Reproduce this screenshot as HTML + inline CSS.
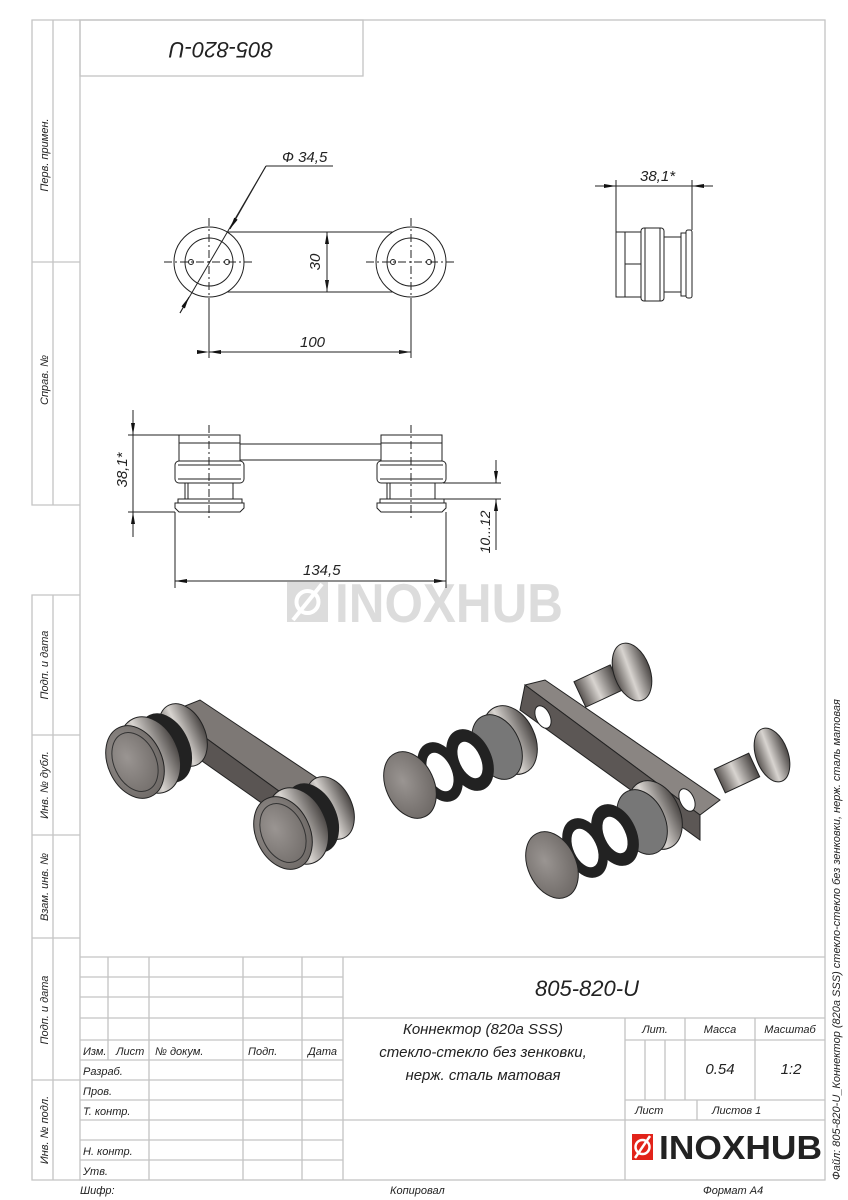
<!DOCTYPE html>
<html><head><meta charset="utf-8"><style>
html,body{margin:0;padding:0;background:#fff}
svg{display:block}
text{font-family:"Liberation Sans","DejaVu Sans",sans-serif;font-style:italic;fill:#222}
</style></head><body>
<svg width="848" height="1200" viewBox="0 0 848 1200" xmlns="http://www.w3.org/2000/svg">
<defs>
<linearGradient id="m" x1="0" y1="0" x2="1" y2="1"><stop offset="0" stop-color="#c9c5c2"/><stop offset="0.5" stop-color="#6e6966"/><stop offset="1" stop-color="#3e3a38"/></linearGradient>
<linearGradient id="m2" x1="0" y1="0" x2="1" y2="0"><stop offset="0" stop-color="#5a5552"/><stop offset="0.45" stop-color="#d8d4d0"/><stop offset="1" stop-color="#4a4644"/></linearGradient>
<radialGradient id="f" cx="0.4" cy="0.4" r="0.7"><stop offset="0" stop-color="#9a9592"/><stop offset="1" stop-color="#6a6562"/></radialGradient>
<marker id="a" markerWidth="12" markerHeight="6" refX="12" refY="3" orient="auto" markerUnits="userSpaceOnUse"><path d="M0,1 L12,3 L0,5z" fill="#111"/></marker>
</defs>
<!-- frame -->
<g stroke="#c4c4c4" stroke-width="1.3" fill="none">
<rect x="80" y="20" width="745" height="1160"/>
<rect x="80" y="20" width="283" height="56"/>
<polyline points="80,20 32,20 32,505 80,505"/>
<line x1="53" y1="20" x2="53" y2="505"/>
<line x1="32" y1="262" x2="80" y2="262"/>
<polyline points="80,595 32,595 32,1180 80,1180"/>
<line x1="53" y1="595" x2="53" y2="1180"/>
<line x1="32" y1="735" x2="80" y2="735"/>
<line x1="32" y1="835" x2="80" y2="835"/>
<line x1="32" y1="938" x2="80" y2="938"/>
<line x1="32" y1="1080" x2="80" y2="1080"/>
<!-- title block -->
<line x1="80" y1="957" x2="825" y2="957"/>
<line x1="80" y1="977" x2="343" y2="977"/>
<line x1="80" y1="997" x2="343" y2="997"/>
<line x1="80" y1="1018" x2="825" y2="1018"/>
<line x1="80" y1="1040" x2="343" y2="1040"/>
<line x1="80" y1="1060" x2="343" y2="1060"/>
<line x1="80" y1="1080" x2="343" y2="1080"/>
<line x1="80" y1="1100" x2="343" y2="1100"/>
<line x1="80" y1="1120" x2="825" y2="1120"/>
<line x1="80" y1="1140" x2="343" y2="1140"/>
<line x1="80" y1="1160" x2="343" y2="1160"/>
<line x1="108" y1="957" x2="108" y2="1060"/>
<line x1="149" y1="957" x2="149" y2="1180"/>
<line x1="243" y1="957" x2="243" y2="1180"/>
<line x1="302" y1="957" x2="302" y2="1180"/>
<line x1="343" y1="957" x2="343" y2="1180"/>
<line x1="625" y1="1018" x2="625" y2="1180"/>
<line x1="625" y1="1040" x2="825" y2="1040"/>
<line x1="625" y1="1100" x2="825" y2="1100"/>
<line x1="645" y1="1040" x2="645" y2="1100"/>
<line x1="665" y1="1040" x2="665" y2="1100"/>
<line x1="685" y1="1018" x2="685" y2="1100"/>
<line x1="697" y1="1100" x2="697" y2="1120"/>
<line x1="755" y1="1018" x2="755" y2="1100"/>
</g>
<!-- labels -->
<text x="221" y="58" font-size="22" text-anchor="middle" transform="rotate(180 221 50)">805-820-U</text>
<g font-size="11">
<text transform="translate(48,155) rotate(-90)" text-anchor="middle">Перв. примен.</text>
<text transform="translate(48,380) rotate(-90)" text-anchor="middle">Справ. №</text>
<text transform="translate(48,665) rotate(-90)" text-anchor="middle">Подп. и дата</text>
<text transform="translate(48,785) rotate(-90)" text-anchor="middle">Инв. № дубл.</text>
<text transform="translate(48,887) rotate(-90)" text-anchor="middle">Взам. инв. №</text>
<text transform="translate(48,1010) rotate(-90)" text-anchor="middle">Подп. и дата</text>
<text transform="translate(48,1130) rotate(-90)" text-anchor="middle">Инв. № подл.</text>
<text x="83" y="1055">Изм.</text><text x="116" y="1055">Лист</text><text x="155" y="1055">№ докум.</text><text x="248" y="1055">Подп.</text><text x="308" y="1055">Дата</text>
<text x="83" y="1075">Разраб.</text><text x="83" y="1095">Пров.</text><text x="83" y="1115">Т. контр.</text>
<text x="83" y="1155">Н. контр.</text><text x="83" y="1175">Утв.</text>
<text x="655" y="1033" text-anchor="middle">Лит.</text><text x="720" y="1033" text-anchor="middle">Масса</text><text x="790" y="1033" text-anchor="middle">Масштаб</text>
<text x="635" y="1114">Лист</text><text x="712" y="1114">Листов 1</text>
<text x="80" y="1194">Шифр:</text><text x="390" y="1194">Копировал</text><text x="703" y="1194">Формат А4</text>
<text transform="translate(840,1180) rotate(-90)">Файл: 805-820-U_Коннектор (820a SSS) стекло-стекло без зенковки, нерж. сталь матовая</text>
</g>
<text x="587" y="996" font-size="22" text-anchor="middle">805-820-U</text>
<g font-size="15" text-anchor="middle"><text x="483" y="1034">Коннектор (820a SSS)</text><text x="483" y="1057">стекло-стекло без зенковки,</text><text x="483" y="1080">нерж. сталь матовая</text>
<text x="720" y="1074">0.54</text><text x="791" y="1074">1:2</text></g>
<!-- logo -->
<rect x="632" y="1134" width="21" height="26" fill="#e2231a"/>
<circle cx="642.5" cy="1147" r="7" fill="none" stroke="#fff" stroke-width="2.5"/>
<line x1="635" y1="1158" x2="650" y2="1136" stroke="#fff" stroke-width="2.5"/>
<text x="659" y="1159" font-size="33" font-weight="bold" style="font-style:normal;fill:#222" textLength="163" lengthAdjust="spacingAndGlyphs">INOXHUB</text>
<!-- watermark -->
<rect x="287" y="582" width="41" height="40" fill="#dcdcdc"/>
<circle cx="307.5" cy="602" r="11" fill="none" stroke="#fff" stroke-width="4"/>
<line x1="293" y1="620" x2="322" y2="584" stroke="#fff" stroke-width="4"/>
<text x="335" y="622" font-size="55" font-weight="bold" style="font-style:normal;fill:#dcdcdc" textLength="228" lengthAdjust="spacingAndGlyphs">INOXHUB</text>

<!-- top view -->
<g stroke="#222" stroke-width="1" fill="none">
<line x1="226" y1="232" x2="397" y2="232"/><line x1="226" y1="292" x2="397" y2="292"/>
<circle cx="209" cy="262" r="35" fill="#fff"/><circle cx="209" cy="262" r="24"/>
<circle cx="411" cy="262" r="35" fill="#fff"/><circle cx="411" cy="262" r="24"/>
<circle cx="191" cy="262" r="2.5"/><circle cx="227" cy="262" r="2.5"/>
<circle cx="393" cy="262" r="2.5"/><circle cx="429" cy="262" r="2.5"/>
<g stroke-dasharray="8,3,2,3"><line x1="164" y1="262" x2="254" y2="262"/><line x1="209" y1="218" x2="209" y2="308"/><line x1="366" y1="262" x2="456" y2="262"/><line x1="411" y1="218" x2="411" y2="308"/></g>
<line x1="209" y1="300" x2="209" y2="358"/><line x1="411" y1="300" x2="411" y2="358"/>
<line x1="209" y1="352" x2="411" y2="352" marker-end="url(#a)" marker-start="url(#a)" style="marker-start:url(#a)"/>
<line x1="327" y1="232" x2="327" y2="292" marker-end="url(#a)"/><line x1="327" y1="292" x2="327" y2="232" marker-end="url(#a)"/>
<line x1="411" y1="352" x2="209" y2="352" marker-end="url(#a)"/>
<line x1="180" y1="313" x2="266" y2="166"/><line x1="266" y1="166" x2="333" y2="166"/>
<line x1="266" y1="166" x2="230" y2="229" marker-end="url(#a)"/><line x1="180" y1="313" x2="189" y2="297" marker-end="url(#a)"/>
</g>
<text x="282" y="162" font-size="15">Ф 34,5</text>
<text x="300" y="347" font-size="15">100</text>
<text transform="translate(320,262) rotate(-90)" font-size="15" text-anchor="middle">30</text>

<!-- side view -->
<g stroke="#222" stroke-width="1" fill="#fff">
<rect x="616" y="232" width="25" height="65"/><line x1="625" y1="232" x2="625" y2="297"/><line x1="625" y1="264" x2="641" y2="264"/>
<rect x="641" y="228" width="23" height="73" rx="3"/><line x1="645" y1="228" x2="645" y2="301"/><line x1="660" y1="228" x2="660" y2="301"/>
<rect x="664" y="237" width="17" height="55"/>
<rect x="681" y="233" width="5" height="63"/><rect x="686" y="230" width="6" height="68" rx="2"/>
<line x1="616" y1="180" x2="616" y2="232"/><line x1="692" y1="180" x2="692" y2="230"/>
<line x1="595" y1="186" x2="616" y2="186" marker-end="url(#a)"/><line x1="713" y1="186" x2="692" y2="186" marker-end="url(#a)"/><line x1="616" y1="186" x2="692" y2="186"/>
</g>
<text x="640" y="181" font-size="15">38,1*</text>

<!-- front view -->
<g stroke="#222" stroke-width="1" fill="#fff">
<g id="leg">
<rect x="179" y="435" width="61" height="8"/><rect x="179" y="443" width="61" height="18"/>
<rect x="175" y="461" width="69" height="22" rx="4"/><line x1="178" y1="465" x2="241" y2="465"/><line x1="178" y1="479" x2="241" y2="479"/>
<rect x="185" y="483" width="48" height="16"/><line x1="188" y1="483" x2="188" y2="499"/>
<rect x="178" y="499" width="64" height="4"/><path d="M175,503 H244 V508 L240,512 H179 L175,508Z"/>
</g>
<use href="#leg" transform="translate(202,0)"/>
<line x1="240" y1="444" x2="381" y2="444"/><line x1="240" y1="460" x2="381" y2="460"/>
<g stroke-dasharray="8,3,2,3" fill="none"><line x1="209" y1="425" x2="209" y2="518"/><line x1="411" y1="425" x2="411" y2="518"/></g>
<line x1="128" y1="435" x2="179" y2="435"/><line x1="128" y1="512" x2="175" y2="512"/>
<line x1="133" y1="410" x2="133" y2="435" marker-end="url(#a)"/><line x1="133" y1="537" x2="133" y2="512" marker-end="url(#a)"/>
<line x1="133" y1="435" x2="133" y2="512"/>
<line x1="175" y1="512" x2="175" y2="588"/><line x1="446" y1="512" x2="446" y2="588"/>
<line x1="175" y1="581" x2="446" y2="581" marker-end="url(#a)"/><line x1="446" y1="581" x2="175" y2="581" marker-end="url(#a)"/>
<line x1="443" y1="483" x2="501" y2="483"/><line x1="435" y1="499" x2="501" y2="499"/>
<line x1="496" y1="460" x2="496" y2="483" marker-end="url(#a)"/><line x1="496" y1="550" x2="496" y2="499" marker-end="url(#a)"/>
</g>
<text x="303" y="575" font-size="15">134,5</text>
<text transform="translate(127,470) rotate(-90)" font-size="15" text-anchor="middle">38,1*</text>
<text transform="translate(490,532) rotate(-90)" font-size="14" text-anchor="middle">10...12</text>

<!-- 3D -->
<g stroke="#222" stroke-width="1">
<!-- left assembly -->
<polygon points="170,712 200,700 335,790 305,810" fill="#7d7875"/>
<polygon points="170,712 305,810 300,830 175,742" fill="#5a5553"/>
<ellipse cx="183" cy="735" rx="22" ry="33" transform="rotate(-25 183 735)" fill="url(#m2)"/>
<ellipse cx="165" cy="748" rx="24" ry="36" transform="rotate(-25 165 748)" fill="#222"/>
<ellipse cx="150" cy="755" rx="28" ry="40" transform="rotate(-25 150 755)" fill="url(#m2)"/>
<ellipse cx="135" cy="762" rx="27" ry="38" transform="rotate(-25 135 762)" fill="url(#f)"/>
<ellipse cx="135" cy="762" rx="21" ry="31" transform="rotate(-25 135 762)" fill="none" stroke="#333"/>
<ellipse cx="330" cy="808" rx="22" ry="33" transform="rotate(-25 330 808)" fill="url(#m2)"/>
<ellipse cx="312" cy="818" rx="24" ry="36" transform="rotate(-25 312 818)" fill="#222"/>
<ellipse cx="298" cy="826" rx="28" ry="40" transform="rotate(-25 298 826)" fill="url(#m2)"/>
<ellipse cx="283" cy="833" rx="27" ry="38" transform="rotate(-25 283 833)" fill="url(#f)"/>
<ellipse cx="283" cy="833" rx="21" ry="31" transform="rotate(-25 283 833)" fill="none" stroke="#333"/>
<!-- exploded upper stack -->
<ellipse cx="510" cy="740" rx="25" ry="36" transform="rotate(-25 510 740)" fill="url(#m2)"/>
<ellipse cx="497" cy="747" rx="23" ry="34" transform="rotate(-25 497 747)" fill="#777"/>
<ellipse cx="470" cy="760" rx="21" ry="32" transform="rotate(-25 470 760)" fill="#222"/>
<ellipse cx="470" cy="760" rx="11" ry="20" transform="rotate(-25 470 760)" fill="#fff"/>
<ellipse cx="440" cy="772" rx="20" ry="31" transform="rotate(-25 440 772)" fill="#222"/>
<ellipse cx="440" cy="772" rx="12" ry="21" transform="rotate(-25 440 772)" fill="#fff"/>
<ellipse cx="410" cy="785" rx="24" ry="35" transform="rotate(-25 410 785)" fill="url(#f)"/>
<!-- bar -->
<polygon points="525,685 545,680 720,800 700,815" fill="#8a8582"/>
<polygon points="525,685 700,815 700,840 520,710" fill="#5c5755"/>
<ellipse cx="543" cy="717" rx="7" ry="12" transform="rotate(-25 543 717)" fill="#fff"/>
<ellipse cx="687" cy="800" rx="7" ry="12" transform="rotate(-25 687 800)" fill="#fff"/>
<!-- bolts -->
<rect x="578" y="672" width="40" height="28" transform="rotate(-25 598 686)" fill="url(#m2)"/>
<ellipse cx="632" cy="672" rx="18" ry="30" transform="rotate(-20 632 672)" fill="url(#m2)"/>
<rect x="718" y="760" width="38" height="26" transform="rotate(-25 737 773)" fill="url(#m2)"/>
<ellipse cx="772" cy="755" rx="16" ry="28" transform="rotate(-20 772 755)" fill="url(#m2)"/>
<!-- lower stack -->
<ellipse cx="655" cy="815" rx="25" ry="36" transform="rotate(-25 655 815)" fill="url(#m2)"/>
<ellipse cx="642" cy="822" rx="23" ry="34" transform="rotate(-25 642 822)" fill="#777"/>
<ellipse cx="615" cy="835" rx="21" ry="32" transform="rotate(-25 615 835)" fill="#222"/>
<ellipse cx="615" cy="835" rx="11" ry="20" transform="rotate(-25 615 835)" fill="#fff"/>
<ellipse cx="585" cy="848" rx="20" ry="31" transform="rotate(-25 585 848)" fill="#222"/>
<ellipse cx="585" cy="848" rx="12" ry="21" transform="rotate(-25 585 848)" fill="#fff"/>
<ellipse cx="552" cy="865" rx="24" ry="35" transform="rotate(-25 552 865)" fill="url(#f)"/>
</g>
</svg>
</body></html>
